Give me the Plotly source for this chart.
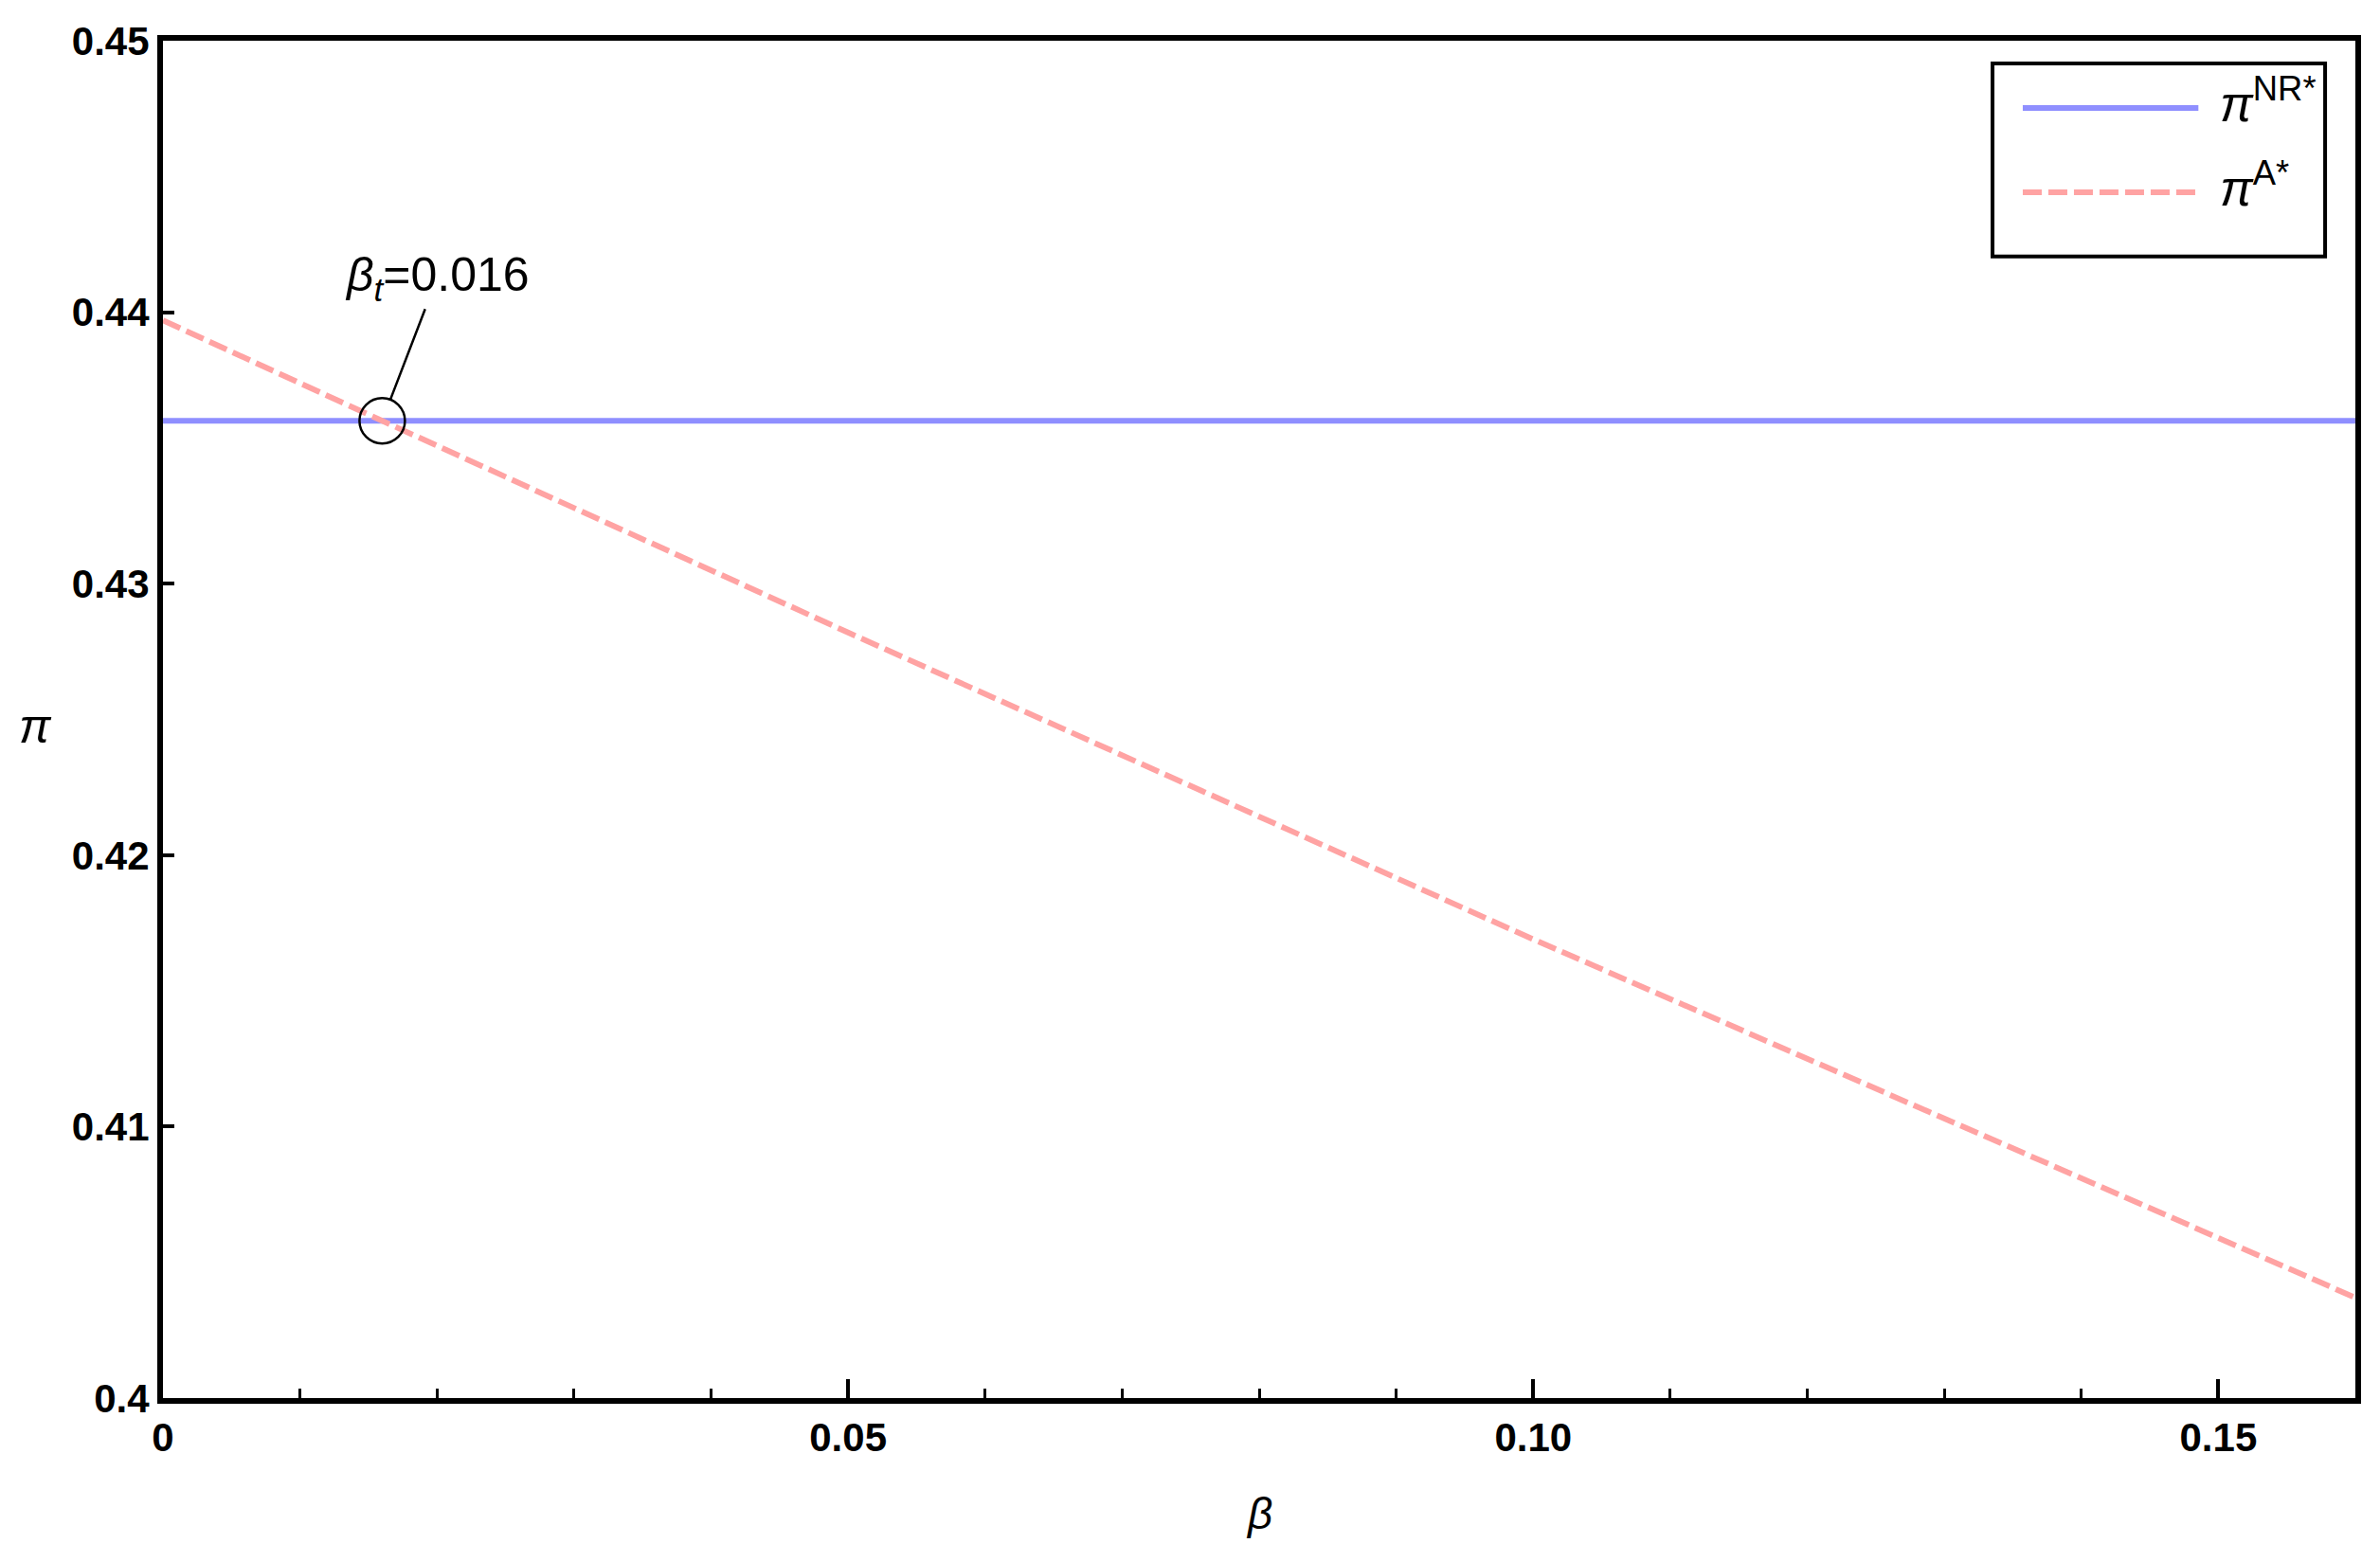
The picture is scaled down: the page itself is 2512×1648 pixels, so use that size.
import plotly.graph_objects as go

# values
beta = [0, 0.016, 0.05, 0.10, 0.15, 0.16]
pi_nr = [0.436, 0.436, 0.436, 0.436, 0.436, 0.436]
pi_a = [0.4397, 0.4360, 0.4282, 0.4169, 0.4059, 0.4037]
beta_t = [0.016]
pi_t = [0.436]

x_ticks = [0, 0.05, 0.10, 0.15]
x_ticktext = ["0", "0.05", "0.10", "0.15"]
y_ticks = [0.40, 0.41, 0.42, 0.43, 0.44, 0.45]
y_ticktext = ["0.4", "0.41", "0.42", "0.43", "0.44", "0.45"]

blue = "#8f8fff"
red = "#ffa3a3"
font = "Liberation Sans, Arial, sans-serif"
dash = "20px,7px"

fig = go.Figure()
fig.add_trace(go.Scatter(x=beta, y=pi_nr, mode="lines",
                         line=dict(color=blue, width=6), showlegend=False))
fig.add_trace(go.Scatter(x=beta, y=pi_a, mode="lines",
                         line=dict(color=red, width=6, dash=dash), showlegend=False))
fig.add_trace(go.Scatter(x=beta_t, y=pi_t, mode="markers", showlegend=False,
                         marker=dict(symbol="circle-open", size=48,
                                     color="black", line=dict(color="black", width=2.5))))

# threshold label with pointer
fig.add_annotation(x=beta_t[0], y=pi_t[0], text="<i>β</i><sub><i>t</i></sub>=0.016",
                   showarrow=True, arrowhead=0, arrowwidth=2.5, arrowcolor="black",
                   ax=58, ay=-151, standoff=24,
                   font=dict(family=font, size=50, color="black"))

# axis titles
fig.add_annotation(x=0.5, y=-0.085, xref="paper", yref="paper", text="<i>β</i>",
                   showarrow=False, xanchor="center", yanchor="middle",
                   font=dict(family=font, size=46, color="black"))
fig.add_annotation(x=-0.058, y=0.495, xref="paper", yref="paper", text="<i>π</i>",
                   showarrow=False, xanchor="center", yanchor="middle",
                   font=dict(family=font, size=50, color="black"))

# legend box drawn by hand so the line samples are long like the original
fig.add_shape(type="rect", xref="paper", yref="paper",
              x0=0.8345, x1=0.9862, y0=0.9833, y1=0.8410,
              line=dict(color="black", width=4), fillcolor="white")
fig.add_shape(type="line", xref="paper", yref="paper",
              x0=0.8483, x1=0.9284, y0=0.9505, y1=0.9505,
              line=dict(color=blue, width=6))
fig.add_shape(type="line", xref="paper", yref="paper",
              x0=0.8483, x1=0.9284, y0=0.8884, y1=0.8884,
              line=dict(color=red, width=6, dash=dash))
fig.add_annotation(x=0.9375, y=0.9505, xref="paper", yref="paper", xanchor="left",
                   yanchor="middle", yshift=8,
                   text="<i>π</i><sup>NR*</sup>", showarrow=False,
                   font=dict(family=font, size=52, color="black"))
fig.add_annotation(x=0.9375, y=0.8884, xref="paper", yref="paper", xanchor="left",
                   yanchor="middle", yshift=8,
                   text="<i>π</i><sup>A*</sup>", showarrow=False,
                   font=dict(family=font, size=52, color="black"))

fig.update_layout(
    width=2496, height=1632,
    margin=dict(l=164, r=12, t=34, b=164),
    plot_bgcolor="white", paper_bgcolor="white",
    showlegend=False,
    xaxis=dict(range=[0, 0.16], tickvals=x_ticks, ticktext=x_ticktext,
               ticks="inside", ticklen=20, tickwidth=4, tickcolor="black",
               minor=dict(tick0=0, dtick=0.01, ticks="inside", ticklen=10,
                          tickwidth=3, tickcolor="black"),
               showgrid=False, zeroline=False,
               showline=True, linewidth=6, linecolor="black", mirror=True,
               tickfont=dict(family=font, size=42, color="black", weight="bold")),
    yaxis=dict(range=[0.40, 0.45], tickvals=y_ticks, ticktext=y_ticktext,
               ticks="inside", ticklen=12, tickwidth=4, tickcolor="black",
               showgrid=False, zeroline=False,
               showline=True, linewidth=6, linecolor="black", mirror=True,
               tickfont=dict(family=font, size=42, color="black", weight="bold")),
)

fig.write_html("out.html")
